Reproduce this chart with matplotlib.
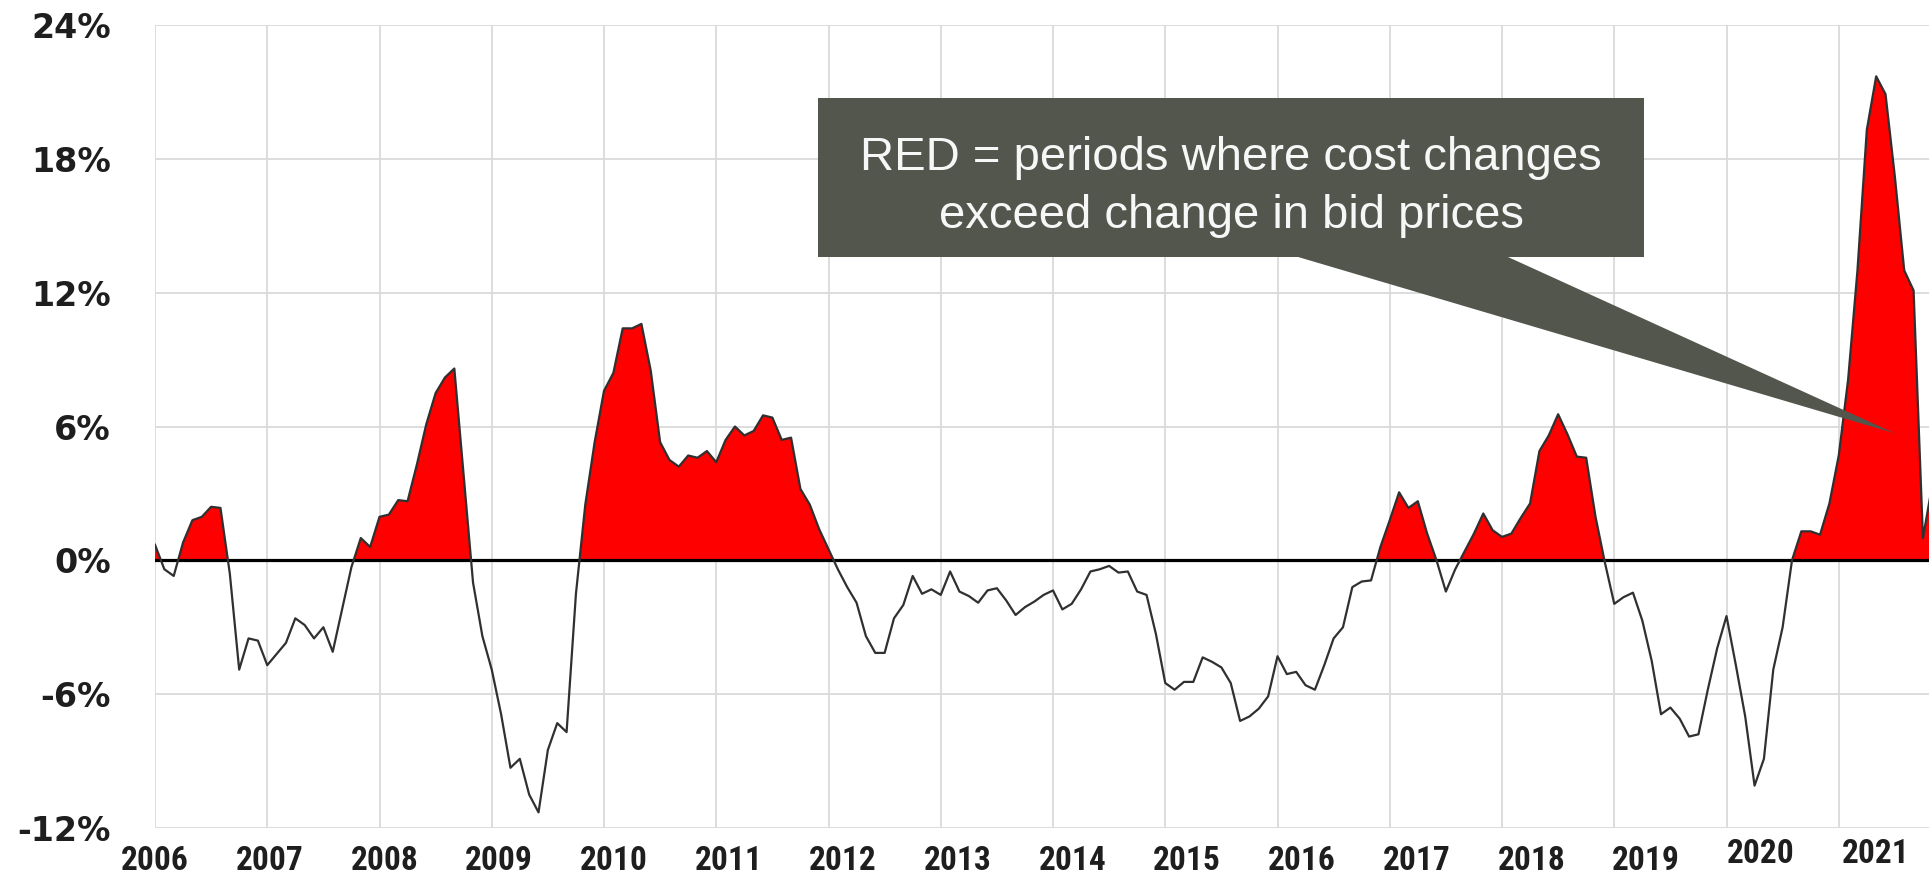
import numpy as np
import matplotlib
matplotlib.use("Agg")
import matplotlib.pyplot as plt
from matplotlib import font_manager
from matplotlib.patches import Rectangle, Polygon
from matplotlib.transforms import blended_transform_factory, ScaledTranslation

# monthly series, Jan 2006 onwards (% change in bid prices vs cost changes)
first_year = 2006
gap_pct = [
    0.7, -0.4, -0.7, 0.8, 1.8, 1.95, 2.4, 2.35, -0.6, -4.9, -3.5, -3.6,           # 2006
    -4.7, -4.2, -3.7, -2.6, -2.9, -3.5, -3.0, -4.1, -2.2, -0.3, 1.0, 0.6,         # 2007
    1.95, 2.05, 2.7, 2.65, 4.3, 6.1, 7.5, 8.2, 8.6, 3.8, -1.0, -3.4,              # 2008
    -4.9, -6.9, -9.3, -8.9, -10.5, -11.3, -8.5, -7.3, -7.7, -1.5, 2.5, 5.3,       # 2009
    7.6, 8.4, 10.4, 10.4, 10.6, 8.5, 5.3, 4.5, 4.2, 4.7, 4.6, 4.9,                # 2010
    4.4, 5.4, 6.0, 5.6, 5.8, 6.5, 6.4, 5.4, 5.5, 3.2, 2.5, 1.4,                   # 2011
    0.5, -0.4, -1.2, -1.9, -3.4, -4.15, -4.15, -2.6, -2.0, -0.7, -1.5, -1.3,      # 2012
    -1.55, -0.5, -1.4, -1.6, -1.9, -1.35, -1.25, -1.8, -2.45, -2.1, -1.85, -1.55, # 2013
    -1.35, -2.2, -1.95, -1.3, -0.5, -0.4, -0.25, -0.55, -0.5, -1.4, -1.55, -3.3,  # 2014
    -5.5, -5.8, -5.45, -5.45, -4.35, -4.55, -4.8, -5.5, -7.2, -7.0, -6.65, -6.1,  # 2015
    -4.3, -5.1, -5.0, -5.6, -5.8, -4.7, -3.5, -3.0, -1.2, -0.95, -0.9, 0.6,       # 2016
    1.8, 3.05, 2.35, 2.65, 1.2, 0.0, -1.4, -0.4, 0.4, 1.2, 2.1, 1.35,             # 2017
    1.05, 1.2, 1.9, 2.55, 4.9, 5.6, 6.55, 5.65, 4.65, 4.6, 1.95, -0.1,            # 2018
    -1.95, -1.65, -1.45, -2.7, -4.5, -6.9, -6.6, -7.1, -7.9, -7.8, -5.8, -3.95,   # 2019
    -2.5, -4.7, -7.0, -10.1, -8.9, -4.9, -3.0, 0.0, 1.3, 1.3, 1.15, 2.55,         # 2020
    4.7, 8.1, 13.0, 19.3, 21.7, 20.9, 17.2, 13.0, 12.1, 1.0, 3.4,                 # 2021
]

year_ticks = list(range(2006, 2022))
pct_ticks = [-12, -6, 0, 6, 12, 18, 24]
pct_labels = ["-12%", "-6%", "0%", "6%", "12%", "18%", "24%"]
callout_text = "RED = periods where cost changes\nexceed change in bid prices"

y = np.array(gap_pct)
x = first_year + np.arange(len(y)) / 12.0

# narrow bold font for the years if there is one
names = {f.name for f in font_manager.fontManager.ttflist}
if "Liberation Sans Narrow" in names:
    year_font = dict(family="Liberation Sans Narrow", size=25)
elif "Roboto Condensed" in names:
    year_font = dict(family="Roboto Condensed", size=24)
else:
    year_font = dict(family="Liberation Sans", size=23)

fig = plt.figure(figsize=(19.29, 8.77), dpi=100)
ax = fig.add_axes([155 / 1929, 49 / 877, 1774 / 1929, 803 / 877])

ax.fill_between(x, y, 0, where=y > 0, interpolate=True, color="#fe0000", lw=0, zorder=2)
ax.axhline(0, color="black", lw=2.3, zorder=3)
ax.plot(x, y, color="#303030", lw=1.6, zorder=4)

ax.set_xlim(2006, 2021.804)
ax.set_ylim(-12, 24)
ax.set_xticks(year_ticks)
ax.set_xticklabels([])
ax.set_yticks(pct_ticks)
ax.set_yticklabels(pct_labels, fontsize=24, fontweight="bold", color="#1e1e1e")
ax.tick_params(length=0)
ax.tick_params(axis="y", pad=32)
ax.grid(True, color="#dadada", lw=1.3)
ax.set_axisbelow(True)
for s in ax.spines.values():
    s.set_visible(False)

# year labels drift a bit to the right of the gridlines in the original
trans = blended_transform_factory(ax.transData, ax.transAxes)
for yr in year_ticks:
    dx = 2.45 * (yr - 2006) / 100.0
    dy = -33 / 100.0
    if yr >= 2020:
        dy += 7 / 100.0
    t = trans + ScaledTranslation(dx, dy, fig.dpi_scale_trans)
    ax.text(yr, 0, str(yr), transform=t, ha="center", va="center",
            fontweight="bold", color="#1e1e1e", clip_on=False, **year_font)

# callout box with pointer
box_col = "#53564d"
ax.add_patch(Rectangle((2011.906, 13.6), 7.359, 7.11, facecolor=box_col,
                       edgecolor="none", zorder=5))
ax.add_patch(Polygon([(2016.183, 13.6), (2018.053, 13.6), (2021.501, 5.69)],
                     closed=True, facecolor=box_col, edgecolor="none", zorder=5))
ax.text(2015.586, 16.75, callout_text, ha="center", va="center", multialignment="center",
        color="#f7f7f7", fontsize=34, family="Liberation Sans", linespacing=1.4, zorder=6)

fig.savefig("out.png", dpi=100)
